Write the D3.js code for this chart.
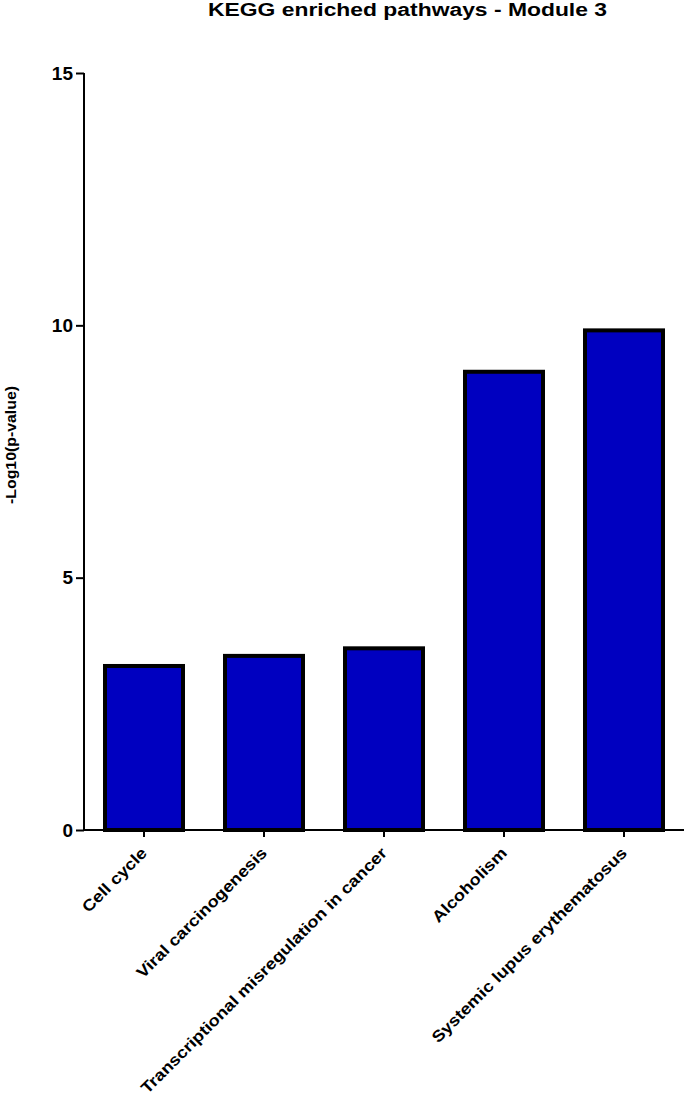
<!DOCTYPE html>
<html>
<head>
<meta charset="utf-8">
<script src="https://cdn.jsdelivr.net/npm/d3@7"></script>
<style>
  html, body { margin: 0; padding: 0; background: #fff; }
  svg { display: block; }
  text { font-family: "Liberation Sans", Arial, sans-serif; font-weight: bold; fill: #000; }
</style>
</head>
<body>
<script>
const categories = ["Cell cycle", "Viral carcinogenesis", "Transcriptional misregulation in cancer", "Alcoholism", "Systemic lupus erythematosus"];
const values = [3.25, 3.45, 3.6, 9.08, 9.9];
const yTicks = [0, 5, 10, 15];
const titleText = "KEGG enriched pathways - Module 3";
const yLabel = "-Log10(p-value)";

const W = 685, H = 1097;
const svg = d3.select("body").append("svg").attr("width", W).attr("height", H);

const x = d3.scaleBand().domain(categories).range([84, 684]).paddingInner(1/3).paddingOuter(1/6);
const y = d3.scaleLinear().domain([0, 15]).range([830, 73]);

// bars
svg.append("g").selectAll("rect").data(values).join("rect")
  .attr("x", (d, i) => x(categories[i]) + 1)
  .attr("width", x.bandwidth() - 2)
  .attr("y", d => y(d))
  .attr("height", d => y(0) - y(d))
  .attr("fill", "#0000C0")
  .attr("stroke", "#000")
  .attr("stroke-width", 4)
  .attr("stroke-linejoin", "miter");

// y axis
const yAxis = svg.append("g").attr("transform", "translate(84,0)")
  .call(d3.axisLeft(y).tickValues(yTicks).tickSize(8).tickPadding(4).tickFormat(d3.format("d")));
yAxis.select(".domain").attr("stroke", "#000").attr("stroke-width", 2).attr("d", `M0,${y(15)}V${y(0)}`);
yAxis.selectAll(".tick line").attr("stroke", "#000").attr("stroke-width", 2);
yAxis.selectAll(".tick text").attr("font-size", 19).attr("font-family", '"Liberation Sans", Arial, sans-serif').attr("font-weight", "bold").attr("x", -11);

// x axis
const xAxis = svg.append("g").attr("transform", `translate(0,${y(0)})`)
  .call(d3.axisBottom(x).tickSize(7).tickSizeOuter(0));
xAxis.select(".domain").attr("stroke", "#000").attr("stroke-width", 2).attr("d", "M83,0H684");
xAxis.selectAll(".tick line").attr("stroke", "#000").attr("stroke-width", 2);
xAxis.selectAll(".tick text")
  .attr("font-size", 16)
  .attr("font-family", '"Liberation Sans", Arial, sans-serif')
  .attr("font-weight", "bold")
  .attr("text-anchor", "end")
  .attr("x", 0).attr("y", 0).attr("dy", 0)
  .attr("transform", "translate(4,24) rotate(-45) scale(1.14,1)");

// title
svg.append("text")
  .attr("x", 407.5).attr("y", 16)
  .attr("text-anchor", "middle")
  .attr("font-size", 18)
  .attr("textLength", 399)
  .attr("lengthAdjust", "spacingAndGlyphs")
  .text(titleText);

// y label
svg.append("text")
  .attr("transform", "translate(16,445) rotate(-90)")
  .attr("text-anchor", "middle")
  .attr("font-size", 15)
  .attr("textLength", 118)
  .attr("lengthAdjust", "spacingAndGlyphs")
  .text(yLabel);
</script>
</body>
</html>
